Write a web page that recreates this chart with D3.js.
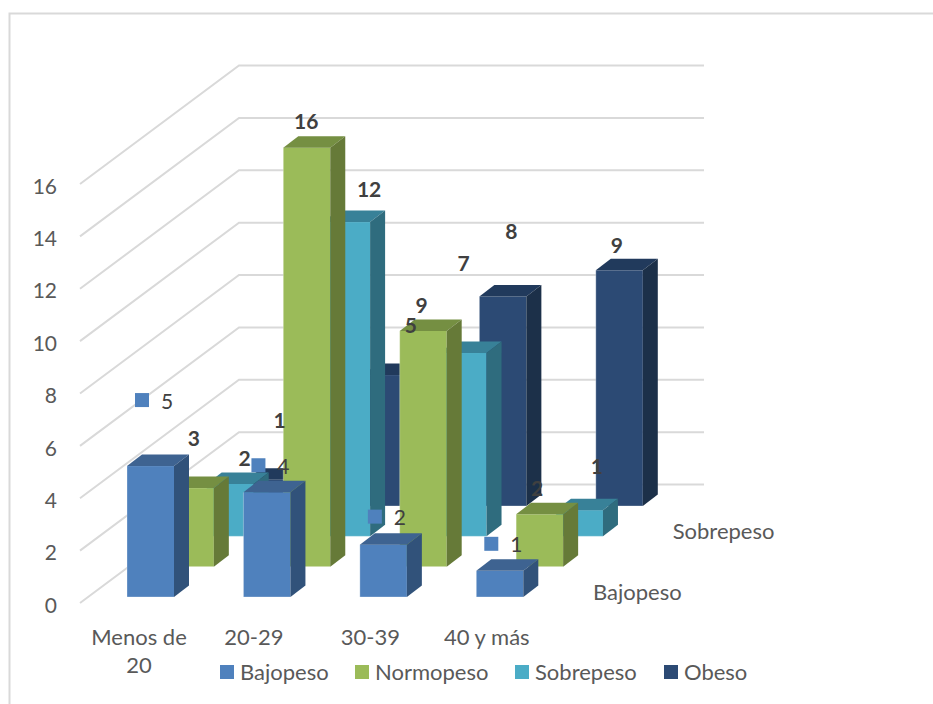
<!DOCTYPE html>
<html>
<head>
<meta charset="utf-8">
<script src="https://cdn.jsdelivr.net/npm/d3@7/dist/d3.min.js"></script>
<style>
  body { margin: 0; background: #fff; }
  svg { display: block; font-family: Lato, sans-serif; }
</style>
</head>
<body>
<div id="chart"></div>
<script>
// Datos
const categorias = ["Menos de 20", "20-29", "30-39", "40 y más"];
const series = ["Obeso", "Sobrepeso", "Normopeso", "Bajopeso"];
const bajopeso = [5, 4, 2, 1];
const normopeso = [3, 16, 9, 2];
const sobrepeso = [2, 12, 7, 1];
const obeso = [1, 5, 8, 9];
const ticks = [0, 2, 4, 6, 8, 10, 12, 14, 16];
const leyenda = ["Bajopeso", "Normopeso", "Sobrepeso", "Obeso"];
const ejeSeries = ["Bajopeso", "Sobrepeso"];

const valores = { Bajopeso: bajopeso, Normopeso: normopeso, Sobrepeso: sobrepeso, Obeso: obeso };

const colores = d3.scaleOrdinal()
    .domain(leyenda)
    .range(["#4f81bd", "#9bbb59", "#4bacc6", "#2c4a74"]);
const lados = d3.scaleOrdinal()
    .domain(leyenda)
    .range(["#31527a", "#667a38", "#2f6c7e", "#1c3049"]);
const techos = d3.scaleOrdinal()
    .domain(leyenda)
    .range(["#3e6391", "#758f42", "#388198", "#213a5c"]);

const width = 933, height = 704;
const barW = 47, depthX = 15, depthY = 11.5;

const svg = d3.select("#chart").append("svg")
    .attr("width", width)
    .attr("height", height);

// Marco del grafico
svg.append("path")
    .attr("d", `M${width},13.5H9.5V${height}`)
    .attr("fill", "none")
    .attr("stroke", "#d9d9d9")
    .attr("stroke-width", 2);

// Escalas
const y = d3.scaleLinear().domain([0, 16]).range([603, 184]);
const x = d3.scalePoint().domain(categorias).range([127, 476.3]);
const serieX = d3.scalePoint().domain(leyenda).range([0, 119.5]);
const serieY = d3.scalePoint().domain(leyenda).range([597, 506]);

// Lineas de la grilla (pared lateral y pared del fondo)
svg.append("g").selectAll("path")
    .data(ticks)
    .enter()
    .append("path")
    .attr("d", d => `M80,${y(d)}L239,${y(d) - 118.5}H704`)
    .attr("fill", "none")
    .attr("stroke", "#d9d9d9")
    .attr("stroke-width", 2);

// Eje vertical
const ejeY = svg.append("g")
    .attr("transform", "translate(62,2.5)")
    .call(d3.axisLeft(y).tickValues(ticks).tickSize(0).tickPadding(5));
ejeY.select(".domain").remove();
ejeY.selectAll("text")
    .attr("fill", "#595959")
    .style("font-family", "Lato, sans-serif")
    .style("font-size", "21px");

// Barras: de atras hacia adelante
const barras = svg.append("g");
series.forEach(function(serie) {
    valores[serie].forEach(function(v, i) {
        const left = x(categorias[i]) + serieX(serie);
        const base = serieY(serie);
        const h = y(0) - y(v);
        const top = base - h;
        const g = barras.append("g");
        g.append("rect")
            .attr("x", left)
            .attr("y", top)
            .attr("width", barW)
            .attr("height", h)
            .attr("fill", colores(serie));
        g.append("path")
            .attr("d", `M${left},${top}l${depthX},${-depthY}h${barW}l${-depthX},${depthY}Z`)
            .attr("fill", techos(serie));
        g.append("path")
            .attr("d", `M${left + barW},${top}l${depthX},${-depthY}v${h}l${-depthX},${depthY}Z`)
            .attr("fill", lados(serie));
        // Borde claro de la cara frontal
        g.append("path")
            .attr("d", `M${left},${top}v${h}h${barW}`)
            .attr("fill", "none")
            .attr("stroke", "#fff")
            .attr("stroke-opacity", 0.3);
    });
});

// Etiquetas de datos, desplazadas a mano como en el original
const ajustes = {
    Bajopeso: [[15, -66], [15, -27], [15, -28], [15, -27]],
    Normopeso: [[27, -50], [23, -26], [22, -26], [21, -26]],
    Sobrepeso: [[38, -26], [46, -33], [24, -90], [41, -44]],
    Obeso: [[33, -59], [48, -50], [32, -65], [21, -25]]
};

const etiquetas = svg.append("g");
series.forEach(function(serie) {
    valores[serie].forEach(function(v, i) {
        const left = x(categorias[i]) + serieX(serie);
        const top = serieY(serie) - (y(0) - y(v));
        const [dx, dy] = ajustes[serie][i];
        if (serie === "Bajopeso") {
            // Esta serie lleva la clave de leyenda junto al valor
            etiquetas.append("rect")
                .attr("x", left + dx - 7)
                .attr("y", top + dy - 7)
                .attr("width", 14)
                .attr("height", 14)
                .attr("fill", colores(serie));
            etiquetas.append("text")
                .attr("x", left + dx + 25)
                .attr("y", top + dy + 1)
                .attr("dy", "0.36em")
                .attr("text-anchor", "middle")
                .attr("fill", "#404040")
                .attr("font-size", 21)
                .text(v);
        } else {
            etiquetas.append("text")
                .attr("x", left + dx)
                .attr("y", top + dy)
                .attr("dy", "0.36em")
                .attr("text-anchor", "middle")
                .attr("fill", "#404040")
                .attr("font-size", 21)
                .attr("font-weight", "bold")
                .text(v);
        }
    });
});

// Etiquetas de categorias
const catEtiq = svg.append("g")
    .attr("fill", "#595959")
    .attr("font-size", 22)
    .attr("text-anchor", "middle");
catEtiq.append("text").attr("x", 139).attr("y", 645).text("Menos de");
catEtiq.append("text").attr("x", 139).attr("y", 673).text("20");
categorias.slice(1).forEach(function(c) {
    catEtiq.append("text")
        .attr("x", x(c) + 10.5)
        .attr("y", 645)
        .text(c);
});

// Nombres del eje de series
svg.append("g")
    .attr("fill", "#595959")
    .attr("font-size", 22)
    .selectAll("text")
    .data(ejeSeries)
    .enter()
    .append("text")
    .attr("x", d => serieX(d) + 593)
    .attr("y", d => serieY(d) + 3)
    .text(d => d);

// Leyenda
const leyendaX = d3.scaleOrdinal().domain(leyenda).range([220, 355, 515, 664]);
const items = svg.append("g").selectAll("g")
    .data(leyenda)
    .enter()
    .append("g")
    .attr("transform", d => `translate(${leyendaX(d)},665)`);
items.append("rect")
    .attr("width", 14)
    .attr("height", 14)
    .attr("fill", d => colores(d));
items.append("text")
    .attr("x", 20)
    .attr("y", 15)
    .attr("fill", "#595959")
    .attr("font-size", 22)
    .text(d => d);
</script>
</body>
</html>
